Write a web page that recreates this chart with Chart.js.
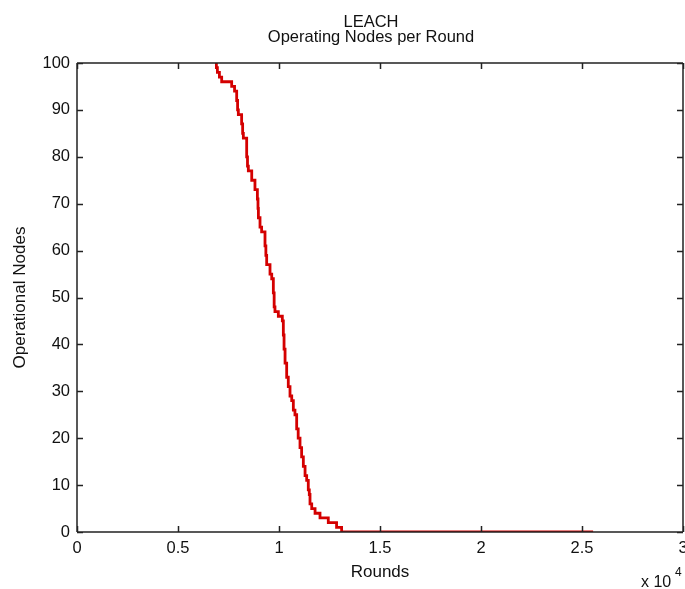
<!DOCTYPE html>
<html>
<head>
<meta charset="utf-8">
<script src="https://cdn.jsdelivr.net/npm/chart.js@4.4.1/dist/chart.umd.min.js"></script>
<style>
  html, body { margin: 0; padding: 0; background: #ffffff; }
  #wrap { width: 685px; height: 589px; position: relative; }
</style>
</head>
<body>
<div id="wrap"><canvas id="c" width="685" height="589"></canvas></div>
<script>
// ---- Data ----
const titleLines = ['LEACH', 'Operating Nodes per Round'];
const xAxisLabel = 'Rounds';
const yAxisLabel = 'Operational Nodes';
const xExponentBase = 'x 10';
const xExponent = '4';
const xTickLabels = ['0', '0.5', '1', '1.5', '2', '2.5', '3'];
const yTickLabels = ['0', '10', '20', '30', '40', '50', '60', '70', '80', '90', '100'];

// round at which the operating-node count changes, and the count from that round on
const rounds = [6900, 6950, 7050, 7162, 7657, 7800, 7905, 7950, 7987, 8150, 8200, 8235, 8400, 8440,
                8482, 8650, 8810, 8930, 8960, 8980, 9060, 9140, 9307, 9350, 9390, 9555, 9640, 9720,
                9760, 9800, 9967, 10165, 10215, 10250, 10300, 10380, 10460, 10545, 10630, 10710,
                10790, 10875, 10950, 11040, 11120, 11205, 11290, 11370, 11450, 11500, 11535, 11620,
                11785, 12030, 12440, 12850, 13100, 25550];
const nodes  = [100, 99, 98, 97, 96, 95, 94, 92, 90, 89, 87, 85, 84, 80,
                78, 77, 75, 73, 71, 69, 67, 65, 64, 61, 59, 57, 55, 54,
                51, 48, 47, 46, 45, 42, 39, 36, 33, 31, 29, 28,
                26, 25, 22, 20, 18, 16, 14, 12, 11, 9, 8, 6,
                5, 4, 3, 2, 1, 0];

const points = rounds.map((r, i) => ({ x: r, y: nodes[i] }));

const FONT = '"Liberation Sans", Arial, Helvetica, sans-serif';
const INK = '#222222';

const framePlugin = {
  id: 'matlabFrame',
  afterDraw(chart) {
    const { ctx, chartArea: { left, right, top, bottom }, scales: { x, y } } = chart;
    ctx.save();
    ctx.strokeStyle = INK;
    ctx.lineWidth = 1.5;
    ctx.beginPath();
    ctx.moveTo(left, top); ctx.lineTo(right, top);
    ctx.moveTo(right, top); ctx.lineTo(right, bottom);
    ctx.moveTo(left, top); ctx.lineTo(left, bottom);
    ctx.moveTo(left, bottom); ctx.lineTo(right, bottom);
    const tl = 6;
    x.ticks.forEach(t => {
      const px = Math.round(x.getPixelForValue(t.value)) + 0.5;
      ctx.moveTo(px, bottom); ctx.lineTo(px, bottom - tl);
      ctx.moveTo(px, top); ctx.lineTo(px, top + tl);
    });
    y.ticks.forEach(t => {
      const py = Math.round(y.getPixelForValue(t.value)) + 0.5;
      ctx.moveTo(left, py); ctx.lineTo(left + tl, py);
      ctx.moveTo(right, py); ctx.lineTo(right - tl, py);
    });
    ctx.stroke();

    // title lines
    ctx.fillStyle = '#111111';
    ctx.textAlign = 'center';
    ctx.textBaseline = 'alphabetic';
    ctx.font = '16.5px ' + FONT;
    ctx.fillText(titleLines[0], 371, 26.5);
    ctx.fillText(titleLines[1], 371, 41.5);

    // exponent label
    ctx.textAlign = 'left';
    ctx.font = '16px ' + FONT;
    ctx.fillText(xExponentBase, 641, 587);
    ctx.font = '12px ' + FONT;
    ctx.fillText(xExponent, 675, 576);
    ctx.restore();
  }
};

new Chart(document.getElementById('c'), {
  type: 'line',
  data: {
    datasets: [{
      label: 'Operating nodes',
      data: points,
      borderColor: '#d40000',
      backgroundColor: '#d40000',
      borderWidth: 2.8,
      pointRadius: 0,
      stepped: 'after',
      fill: false
    }]
  },
  options: {
    responsive: false,
    animation: false,
    layout: { padding: { top: 63, right: 2, left: 0, bottom: 0 } },
    plugins: {
      legend: { display: false },
      title: { display: false },
      tooltip: { enabled: false }
    },
    scales: {
      x: {
        type: 'linear',
        min: 0,
        max: 30000,
        grid: { display: false, drawTicks: false },
        border: { display: false },
        ticks: {
          stepSize: 5000,
          padding: 7,
          color: '#111111',
          font: { family: FONT, size: 16.5 },
          maxRotation: 0,
          autoSkip: false,
          callback: (v, i) => xTickLabels[i]
        },
        title: {
          display: true,
          text: xAxisLabel,
          color: '#111111',
          font: { family: FONT, size: 17 },
          padding: { top: 0, bottom: 6 }
        },
        afterFit(scale) {
          scale.height = 57;
          scale.paddingLeft = 0;
          scale.paddingRight = 0;
        }
      },
      y: {
        min: 0,
        max: 100,
        grid: { display: false, drawTicks: false },
        border: { display: false },
        ticks: {
          stepSize: 10,
          padding: 7,
          color: '#111111',
          font: { family: FONT, size: 16.5 },
          callback: (v, i) => yTickLabels[i]
        },
        title: {
          display: true,
          text: yAxisLabel,
          color: '#111111',
          font: { family: FONT, size: 17 },
          padding: { top: 10, bottom: 0 }
        },
        afterFit(scale) {
          scale.width = 77;
          scale.paddingTop = 0;
          scale.paddingBottom = 0;
        }
      }
    }
  },
  plugins: [framePlugin]
});
</script>
</body>
</html>
